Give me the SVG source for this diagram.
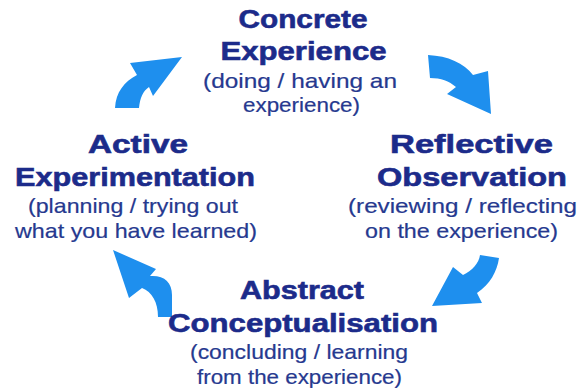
<svg xmlns="http://www.w3.org/2000/svg" width="577" height="392" viewBox="0 0 577 392">
  <style>
    .title { font-family: "Liberation Sans", Arial, sans-serif; font-weight: bold; font-size: 26px; fill: #1c2b8a; stroke: #1c2b8a; stroke-width: 0.6px; text-anchor: middle; }
    .sub { font-family: "Liberation Sans", Arial, sans-serif; font-size: 21px; fill: #26398f; stroke: #26398f; stroke-width: 0.2px; text-anchor: middle; }
    .arrow { fill: #1e8fee; }
  </style>
  <rect width="577" height="392" fill="#ffffff"/>

  <g id="connectors">
    <path class="arrow" d="M115,108 C116,92 124,82 137,75 L130,63 L182,57 L153,96 L149,87 C143,91 140,98 139,108 Z"/>
    <path class="arrow" d="M428,55 C448,56 464,63 473,75 L488,71 L491,114 L447,94 L456,87 C449,81 441,78 430,78 Z"/>
    <path class="arrow" d="M480,255 C479,263 472,271 463,275 L453,267 L432,306 L482,303 L477,293 C490,284 497,272 499,258 Z"/>
    <path class="arrow" d="M113,250 L156,269 L150,276 C164,275 172,282 172,295 L172,317 L158,317 C158,302 152,292 142,288 L129,298 Z"/>
  </g>

  <g id="concrete-experience">
    <text class="title" x="303" y="28" textLength="129" lengthAdjust="spacingAndGlyphs">Concrete</text>
    <text class="title" x="303.5" y="60" textLength="166" lengthAdjust="spacingAndGlyphs">Experience</text>
    <text class="sub" x="300" y="88" textLength="194" lengthAdjust="spacingAndGlyphs">(doing / having an</text>
    <text class="sub" x="301.5" y="112" textLength="117" lengthAdjust="spacingAndGlyphs">experience)</text>
  </g>

  <g id="reflective-observation">
    <text class="title" x="471.5" y="153" textLength="163" lengthAdjust="spacingAndGlyphs">Reflective</text>
    <text class="title" x="472" y="186" textLength="190" lengthAdjust="spacingAndGlyphs">Observation</text>
    <text class="sub" x="462.5" y="213" textLength="229" lengthAdjust="spacingAndGlyphs">(reviewing / reflecting</text>
    <text class="sub" x="461.5" y="238" textLength="193" lengthAdjust="spacingAndGlyphs">on the experience)</text>
  </g>

  <g id="abstract-conceptualisation">
    <text class="title" x="302" y="299" textLength="124" lengthAdjust="spacingAndGlyphs">Abstract</text>
    <text class="title" x="303" y="332" textLength="270" lengthAdjust="spacingAndGlyphs">Conceptualisation</text>
    <text class="sub" x="299" y="359" textLength="218" lengthAdjust="spacingAndGlyphs">(concluding / learning</text>
    <text class="sub" x="299.5" y="384" textLength="205" lengthAdjust="spacingAndGlyphs">from the experience)</text>
  </g>

  <g id="active-experimentation">
    <text class="title" x="138" y="153" textLength="100" lengthAdjust="spacingAndGlyphs">Active</text>
    <text class="title" x="135" y="186" textLength="240" lengthAdjust="spacingAndGlyphs">Experimentation</text>
    <text class="sub" x="133" y="213" textLength="210" lengthAdjust="spacingAndGlyphs">(planning / trying out</text>
    <text class="sub" x="136" y="238" textLength="242" lengthAdjust="spacingAndGlyphs">what you have learned)</text>
  </g>
</svg>
